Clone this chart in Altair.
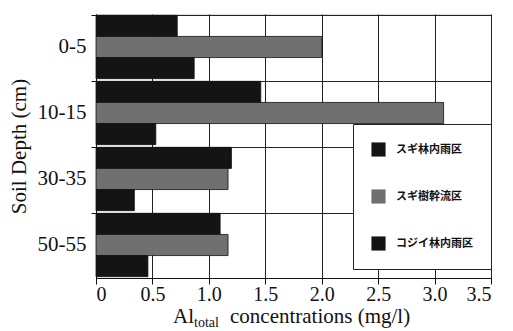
import altair as alt
import pandas as pd

depths = ["0-5", "10-15", "30-35", "50-55"]
series = ["スギ林内雨区", "スギ樹幹流区", "コジイ林内雨区"]
s1 = [0.72, 1.46, 1.20, 1.10]
s2 = [2.00, 3.08, 1.17, 1.17]
s3 = [0.87, 0.53, 0.34, 0.46]
xticks = [0, 0.5, 1, 1.5, 2, 2.5, 3, 3.5]

rows = []
for i, d in enumerate(depths):
    for s, vals in zip(series, [s1, s2, s3]):
        rows.append({"depth": d, "series": s, "value": vals[i]})
df = pd.DataFrame(rows)

serif = "Liberation Serif"
jp = "Noto Sans CJK JP"
W, H = 395, 264

bars = alt.Chart(df).mark_bar(stroke="#111", strokeWidth=0.8).encode(
    x=alt.X("value:Q", scale=alt.Scale(domain=[0, 3.5], nice=False),
            axis=alt.Axis(values=xticks, title=None, grid=True, gridColor="#222",
                          gridWidth=1, labelFont=serif, labelFontSize=20,
                          labelColor="#111", domainColor="#111", tickColor="#111",
                          tickSize=6, labelPadding=0,
                          labelExpr="datum.value == 0 ? '0' : datum.label")),
    y=alt.Y("depth:N", sort=depths,
            scale=alt.Scale(domain=depths, paddingInner=0.04, paddingOuter=0.02),
            axis=alt.Axis(title="Soil Depth (cm)", titleFont=serif, titleFontSize=21,
                          titleFontWeight="normal", titleColor="#111", titlePadding=8,
                          labelFont=serif, labelFontSize=21, labelColor="#111",
                          grid=True, gridColor="#222", bandPosition=0,
                          domainColor="#111", tickColor="#111", tickSize=5,
                          labelPadding=5)),
    yOffset=alt.YOffset("series:N", sort=series, scale=alt.Scale(domain=series)),
    color=alt.Color("series:N", sort=series,
                    scale=alt.Scale(domain=series, range=["#141414", "#707070", "#141414"]),
                    legend=alt.Legend(title=None, orient="none", legendX=257, legendY=110,
                                      direction="vertical", symbolType="square",
                                      symbolSize=200, symbolStrokeWidth=0,
                                      labelFont=jp, labelFontWeight="bold",
                                      labelFontSize=11, labelColor="#111",
                                      rowPadding=32, padding=18, labelOffset=10,
                                      fillColor="white", strokeColor="#222",
                                      cornerRadius=0)),
)

t_al = alt.Chart(pd.DataFrame({"t": ["Al"]})).mark_text(
    font=serif, fontSize=21, align="right", baseline="alphabetic", color="#111"
).encode(text="t:N", x=alt.value(98), y=alt.value(309))
t_sub = alt.Chart(pd.DataFrame({"t": ["total"]})).mark_text(
    font=serif, fontSize=14, align="left", baseline="alphabetic", color="#111"
).encode(text="t:N", x=alt.value(98), y=alt.value(313))
t_rest = alt.Chart(pd.DataFrame({"t": ["concentrations (mg/l)"]})).mark_text(
    font=serif, fontSize=21, align="left", baseline="alphabetic", color="#111"
).encode(text="t:N", x=alt.value(134), y=alt.value(309))

chart = alt.layer(bars, t_al, t_sub, t_rest).properties(
    width=W, height=H,
    padding={"left": 96, "top": 14, "right": 22, "bottom": 53},
    autosize=alt.AutoSizeParams(type="none"),
).configure_view(stroke="#111", strokeWidth=1).configure_axis(
    labelFont=serif, titleFont=serif
).configure(background="white")

chart.save("out.html", embed_options={"renderer": "svg", "actions": False})
